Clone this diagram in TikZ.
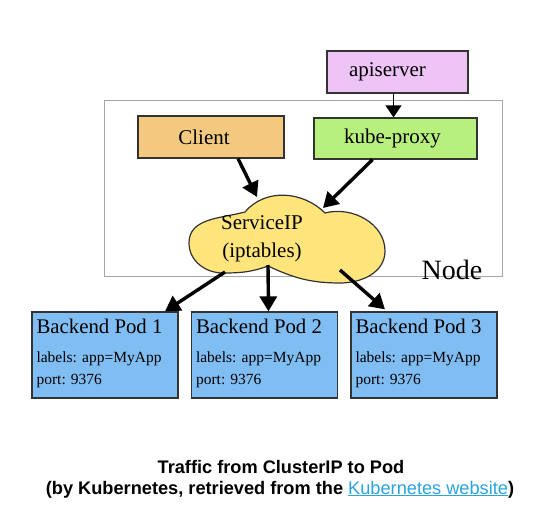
\documentclass[tikz,border=0pt]{standalone}
\usepackage{fontspec}
\setmainfont{Liberation Serif}
\newfontfamily\capfont{Liberation Sans}
\usetikzlibrary{arrows.meta}
\definecolor{apicol}{HTML}{EEC4F7}
\definecolor{kubecol}{HTML}{B8F07E}
\definecolor{clientcol}{HTML}{F2C97F}
\definecolor{cloudcol}{HTML}{FFE57C}
\definecolor{podcol}{HTML}{80BDF3}
\definecolor{linkcol}{HTML}{2AA3DE}
\definecolor{edgecol}{HTML}{333333}
\tikzset{
  topbox/.style={draw=edgecol, line width=1.3pt, minimum height=42pt, inner sep=0pt},
  boxtext/.style={inner sep=0pt, font=\fontsize{21}{24}\selectfont},
  podbox/.style={draw=edgecol, line width=1.3pt, fill=podcol, minimum width=146pt,
    minimum height=86pt, inner sep=0pt},
  podtitle/.style={anchor=base west, inner sep=0pt, font=\fontsize{20.8}{24}\selectfont},
  podline/.style={anchor=base west, inner sep=0pt, font=\fontsize{15.5}{18}\selectfont},
  flow/.style={line width=3.4pt, -{Triangle[length=15pt,width=17pt]}},
  thinflow/.style={line width=1.4pt, -{Triangle[length=12pt,width=16pt]}},
  captext/.style={font=\capfont\bfseries\fontsize{18.2}{21}\selectfont, anchor=base, inner sep=0pt},
}
\begin{document}
\begin{tikzpicture}[x=1pt,y=1pt]
\useasboundingbox[fill=white] (0,0) rectangle (541,515);
% Node frame
\node[draw=gray!70, line width=1pt, minimum width=398pt, minimum height=175pt, inner sep=0pt]
  (nodeframe) at (303,326.5) {};
\node[font=\fontsize{28}{30}\selectfont, inner sep=0pt] (nodelabel) at (452,245) {Node};
% top boxes
\node[topbox, fill=apicol, minimum width=141pt] (api) at (397.5,443) {};
\node[boxtext] (apit) at ([xshift=-10pt]api.center) {apiserver};
\node[topbox, fill=kubecol, minimum width=163pt, minimum height=41pt] (kube) at (395.5,376.5) {};
\node[boxtext] (kubet) at ([xshift=-3pt]kube.center) {kube-proxy};
\node[topbox, fill=clientcol, minimum width=146pt] (client) at (211,378) {};
\node[boxtext] (clientt) at ([xshift=-7pt]client.center) {Client};
% cloud
\draw[edgecol, line width=1.2pt, fill=cloudcol]
  (245,303) coordinate (cA)
  to[out=50,in=135] (325,302) coordinate (cB)
  to[out=15,in=90] (385,264)
  to[out=-90,in=0] (340,232)
  to[out=180,in=-25] (268,249) coordinate (cE)
  to[out=-160,in=0] (223,242)
  to[out=180,in=-90] (189,272)
  to[out=90,in=195] (cA) -- cycle;
\node[boxtext] (svc1) at (262,292) {ServiceIP};
\node[boxtext] (svc2) at (262,263) {(iptables)};
\coordinate (tipc1) at (257,318);
\coordinate (tipc2) at (323,307);
\coordinate (tail1) at (225,243);
\coordinate (tail2) at (268,250);
\coordinate (tail3) at (340,245);
% pods
\foreach \i/\cx in {1/105,2/264.5,3/424}{
  \node[podbox] (pod\i) at (\cx,160) {};
  \node[podtitle] (pt\i) at ([shift={(5pt,-22pt)}]pod\i.north west) {Backend Pod \i};
  \node[podline] (pl\i) at ([shift={(5pt,-51pt)}]pod\i.north west) {labels: app=MyApp};
  \node[podline] (pp\i) at ([shift={(5pt,-73pt)}]pod\i.north west) {port: 9376};
}
% connectors
\draw[thinflow] ([xshift=-4pt]api.south) -- ([xshift=-4pt]api.south |- kube.north);
\draw[flow] ([xshift=27pt]client.south) -- (tipc1);
\draw[flow] ([xshift=-23pt]kube.south) -- (tipc2);
\draw[flow] (tail1) -- ([xshift=60pt]pod1.north);
\draw[flow] (tail2) -- ([xshift=4pt]pod2.north);
\draw[flow] (tail3) -- ([xshift=-39pt,yshift=2pt]pod3.north);
% caption
\node[captext] (cap1) at (281,42) {Traffic from ClusterIP to Pod};
\node[captext] (cap2) at (280,21)
  {(by Kubernetes, retrieved from the {\mdseries\color{linkcol}\underline{Kubernetes website}})};
\end{tikzpicture}
\end{document}
